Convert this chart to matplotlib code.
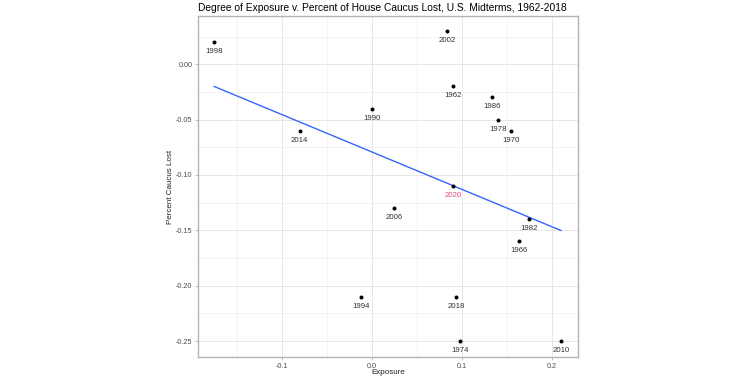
import numpy as np
import matplotlib
matplotlib.use("Agg")
import matplotlib.pyplot as plt
from matplotlib.ticker import MultipleLocator, FixedLocator

plt.rcParams["font.family"] = ["Liberation Sans", "DejaVu Sans"]

# midterm years with exposure and percent caucus lost
years = [1962, 1966, 1970, 1974, 1978, 1982, 1986, 1990, 1994, 1998,
         2002, 2006, 2010, 2014, 2018]
exposure = [0.090, 0.164, 0.155, 0.098, 0.140, 0.175, 0.134, 0.000, -0.012, -0.175,
            0.084, 0.025, 0.210, -0.080, 0.094]
caucus_lost = [-0.020, -0.160, -0.060, -0.250, -0.050, -0.140, -0.030, -0.040, -0.210, 0.020,
               0.030, -0.130, -0.250, -0.060, -0.210]

# 2020 prediction
pred_year = 2020
pred_exposure = 0.090

x = np.array(exposure)
y = np.array(caucus_lost)
slope, intercept = np.polyfit(x, y, 1)
pred_lost = slope * pred_exposure + intercept

fig = plt.figure(figsize=(7.5, 3.78), dpi=100)
ax = fig.add_axes([198 / 750, 1 - 357 / 378, 380 / 750, 341 / 378])

ax.set_xlim(-0.193, 0.229)
ax.set_ylim(-0.2644, 0.0436)

ax.xaxis.set_major_locator(FixedLocator([-0.1, 0.0, 0.1, 0.2]))
ax.xaxis.set_minor_locator(FixedLocator([-0.15, -0.05, 0.05, 0.15]))
ax.yaxis.set_major_locator(MultipleLocator(0.05))
ax.yaxis.set_minor_locator(MultipleLocator(0.025))
ax.grid(which="major", color="#e3e3e3", linewidth=0.6)
ax.grid(which="minor", color="#efefef", linewidth=0.5)
ax.set_axisbelow(True)

for s in ax.spines.values():
    s.set_color("#b3b3b3")
    s.set_linewidth(1.0)
ax.tick_params(which="major", length=2.5, color="#b3b3b3", width=0.6,
               labelsize=5.2, labelcolor="#4d4d4d", pad=1.5)
ax.tick_params(which="minor", length=0)

ax.set_xticklabels(["-0.1", "0.0", "0.1", "0.2"])
ax.set_yticklabels([f"{v:.2f}" for v in ax.get_yticks()])

xs = np.array([x.min(), x.max()])
ax.plot(xs, slope * xs + intercept, color="#3366ff", linewidth=1.0, zorder=2)

ax.scatter(x, y, s=3.5, color="black", zorder=3)
for yr, xi, yi in zip(years, x, y):
    ax.annotate(str(yr), (xi, yi), xytext=(0, -4.3), textcoords="offset points",
                ha="center", va="top", fontsize=5.6, color="#333333")

ax.scatter([pred_exposure], [pred_lost], s=3.5, color="black", zorder=3)
ax.annotate(str(pred_year), (pred_exposure, pred_lost), xytext=(0, -4.3),
            textcoords="offset points", ha="center", va="top", fontsize=5.6,
            color="#f0477a")

ax.set_xlabel("Exposure", fontsize=5.8, color="#222222")
ax.set_ylabel("Percent Caucus Lost", fontsize=5.8, color="#222222")
ax.xaxis.set_label_coords(0.5, -0.036)
ax.yaxis.set_label_coords(-0.062, 0.5)
ax.set_title("Degree of Exposure v. Percent of House Caucus Lost, U.S. Midterms, 1962-2018",
             fontsize=7.4, loc="left", x=0.0, pad=3.5)

fig.savefig("out.png", dpi=100)
